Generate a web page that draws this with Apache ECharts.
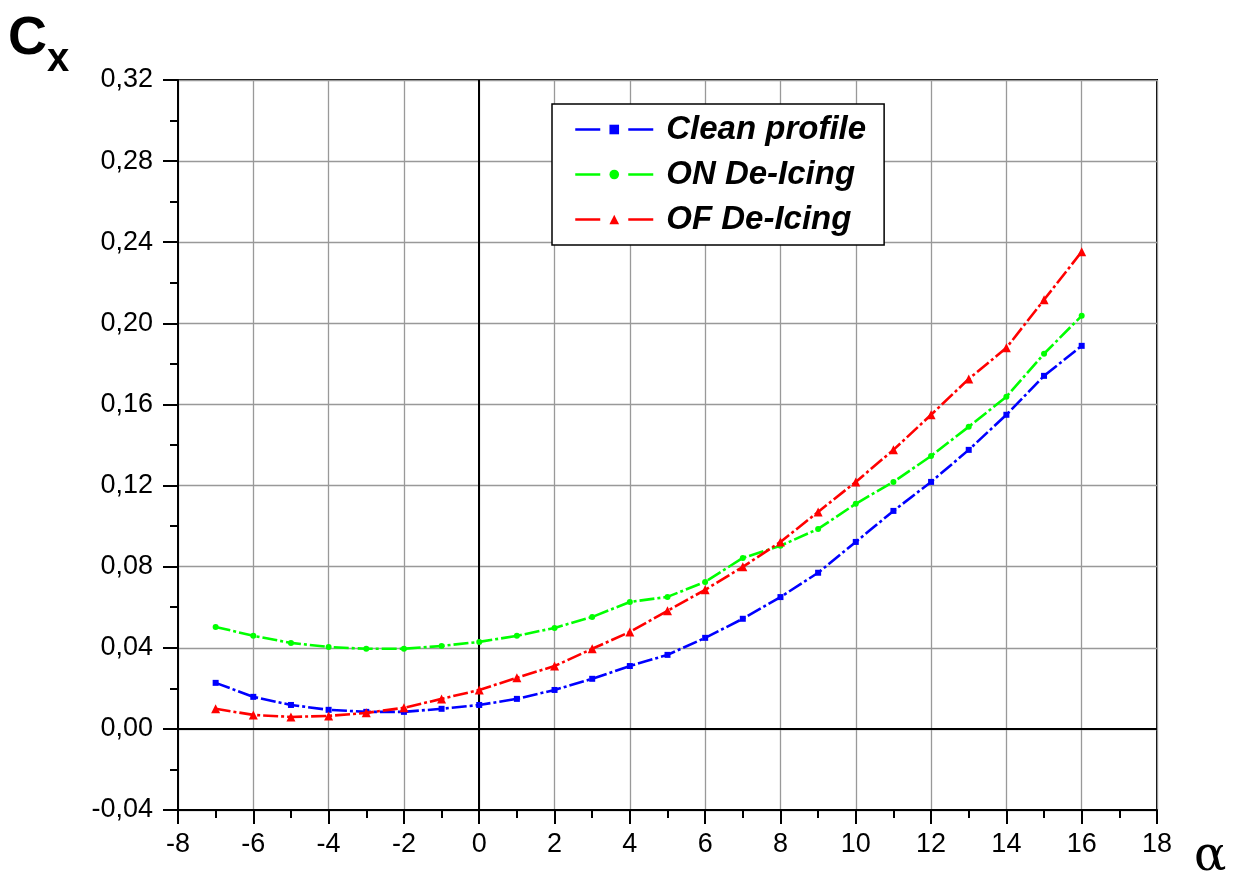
<!DOCTYPE html>
<html>
<head>
<meta charset="utf-8">
<script src="https://cdn.jsdelivr.net/npm/echarts@6/dist/echarts.min.js"></script>
<style>
  html, body { margin: 0; padding: 0; background: #fff; }
  #chart { width: 1243px; height: 877px; }
</style>
</head>
<body>
<div id="chart"></div>
<script>
// angle of attack, degrees
const alpha = [-7, -6, -5, -4, -3, -2, -1, 0, 1, 2, 3, 4, 5, 6, 7, 8, 9, 10, 11, 12, 13, 14, 15, 16];
const seriesNames = ["Clean profile", "ON De-Icing", "OF De-Icing"];
const cleanProfile = [0.0227, 0.0158, 0.0118, 0.0094, 0.0084, 0.0084, 0.0099, 0.0118, 0.0148, 0.0192, 0.0247, 0.031,
  0.0365, 0.0449, 0.0543, 0.065, 0.077, 0.0922, 0.1075, 0.1218, 0.1376, 0.1549, 0.1741, 0.1889];
const onDeIcing = [0.0503, 0.0459, 0.0424, 0.0404, 0.0395, 0.0395, 0.0409, 0.0429, 0.0459, 0.0498, 0.0552, 0.0626,
  0.0651, 0.0725, 0.0843, 0.0903, 0.0986, 0.111, 0.1218, 0.1346, 0.149, 0.1638, 0.185, 0.2037];
const ofDeIcing = [0.0099, 0.0069, 0.0059, 0.0064, 0.0079, 0.0104, 0.0148, 0.0192, 0.0252, 0.031, 0.0395, 0.0478,
  0.0582, 0.0686, 0.0799, 0.0922, 0.107, 0.1218, 0.1376, 0.1549, 0.1726, 0.1879, 0.2116, 0.2353];

const colors = ["#0000ff", "#00ff00", "#ff0000"];
const symbols = ["rect", "circle", "triangle"];
const symbolSizes = [6, 6, 9];
const values = [cleanProfile, onDeIcing, ofDeIcing];

const chart = echarts.init(document.getElementById("chart"));

const series = values.map((vals, i) => {
  return {
    name: seriesNames[i],
    type: "line",
    data: alpha.map((a, k) => [a, vals[k]]),
    symbol: symbols[i],
    symbolSize: symbolSizes[i],
    showSymbol: true,
    itemStyle: { color: colors[i] },
    lineStyle: { color: colors[i], width: 2.6, type: [15, 3, 3, 3] },
    z: 5 + i
  };
});

// zero lines
series[0].markLine = {
  silent: true,
  symbol: "none",
  label: { show: false },
  lineStyle: { color: "#000", width: 2, type: "solid" },
  data: [{ xAxis: 0 }, { yAxis: 0 }]
};

const option = {
  backgroundColor: "#fff",
  animation: false,
  grid: {
    left: 178,
    right: 86,
    top: 80,
    bottom: 67,
    show: true,
    borderColor: "#000",
    borderWidth: 2
  },
  legend: {
    data: seriesNames,
    orient: "vertical",
    left: 552,
    top: 104,
    itemWidth: 78,
    itemHeight: 12,
    itemGap: 12,
    padding: [9, 18, 9, 22],
    borderColor: "#000",
    borderWidth: 1.5,
    backgroundColor: "#fff",
    lineStyle: { width: 2.5, type: [25, 28] },
    textStyle: {
      fontFamily: "Liberation Sans",
      fontSize: 33,
      lineHeight: 32,
      fontWeight: "bold",
      fontStyle: "italic",
      color: "#000",
      padding: [0, 0, 0, 8]
    }
  },
  xAxis: {
    type: "value",
    min: -8,
    max: 18,
    interval: 2,
    axisLine: { show: true, onZero: false, lineStyle: { color: "#000", width: 2 } },
    axisTick: { show: true, inside: false, length: 14, lineStyle: { color: "#000", width: 2 } },
    minorTick: { show: true, splitNumber: 2, length: 8, lineStyle: { color: "#000", width: 2 } },
    axisLabel: { fontFamily: "Liberation Sans", fontSize: 27, color: "#000", margin: 21 },
    splitLine: { show: true, lineStyle: { color: "#999", width: 1.3 } }
  },
  yAxis: {
    type: "value",
    min: -0.04,
    max: 0.32,
    interval: 0.04,
    axisLine: { show: true, onZero: false, lineStyle: { color: "#000", width: 2 } },
    axisTick: { show: true, inside: false, length: 15, lineStyle: { color: "#000", width: 2 } },
    minorTick: { show: true, splitNumber: 2, length: 8, lineStyle: { color: "#000", width: 2 } },
    axisLabel: {
      fontFamily: "Liberation Sans",
      fontSize: 27,
      color: "#000",
      margin: 25,
      formatter: v => v.toFixed(2).replace(".", ",")
    },
    splitLine: { show: true, lineStyle: { color: "#999", width: 1.3 } }
  },
  graphic: [
    {
      type: "text",
      left: 8,
      top: 12,
      style: { text: "C", fontFamily: "Liberation Sans", fontSize: 54, fontWeight: "bold", fill: "#000" }
    },
    {
      type: "text",
      left: 47,
      top: 40,
      style: { text: "x", fontFamily: "Liberation Sans", fontSize: 40, fontWeight: "bold", fill: "#000" }
    },
    {
      type: "text",
      left: 1194,
      top: 834,
      style: { text: "α", fontFamily: "DejaVu Serif", fontSize: 48, fill: "#000" }
    }
  ],
  series: series
};

chart.setOption(option);
</script>
</body>
</html>
